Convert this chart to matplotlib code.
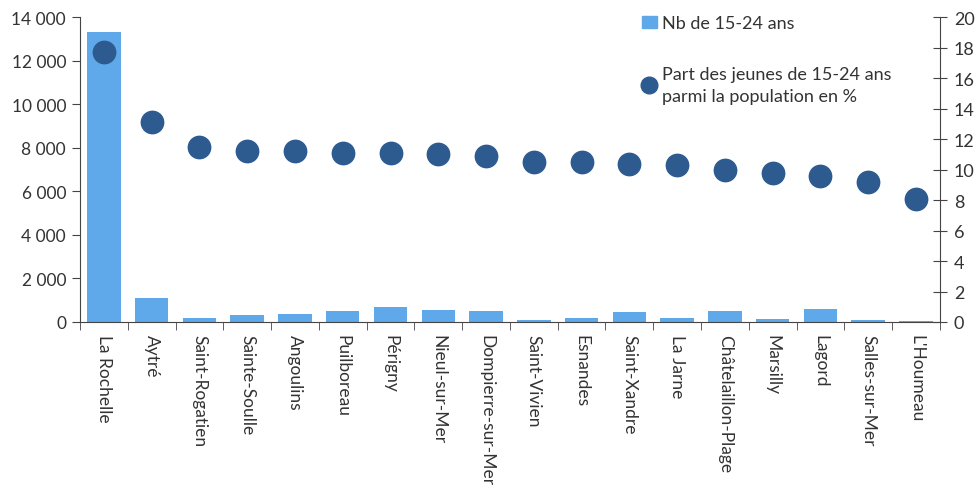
import matplotlib
matplotlib.use("Agg")
import matplotlib.pyplot as plt
import numpy as np
from matplotlib.lines import Line2D
from matplotlib.patches import Patch

communes = ["La Rochelle", "Aytré", "Saint-Rogatien", "Sainte-Soulle", "Angoulins",
            "Puilboreau", "Périgny", "Nieul-sur-Mer", "Dompierre-sur-Mer", "Saint-Vivien",
            "Esnandes", "Saint-Xandre", "La Jarne", "Châtelaillon-Plage", "Marsilly",
            "Lagord", "Salles-sur-Mer", "L'Houmeau"]
nb_15_24 = [13310, 1120, 170, 320, 385, 525, 710, 570, 520, 100,
            170, 445, 170, 490, 140, 600, 100, 60]
part_pct = [17.7, 13.1, 11.5, 11.2, 11.2, 11.1, 11.1, 11.0, 10.9, 10.5,
            10.5, 10.4, 10.3, 9.95, 9.8, 9.57, 9.2, 8.05]
left_ticks = [0, 2000, 4000, 6000, 8000, 10000, 12000, 14000]
left_ticklabels = ["0", "2 000", "4 000", "6 000", "8 000", "10 000", "12 000", "14 000"]
right_ticks = [0, 2, 4, 6, 8, 10, 12, 14, 16, 18, 20]

plt.rcParams['font.family'] = ['Lato', 'DejaVu Sans']
txt = '#333333'
bar_c = '#5fa8ea'
dot_c = '#2e5b8f'

fig = plt.figure(figsize=(9.78, 5.02), dpi=100)
ax = fig.add_axes([0.0818, 0.3566, 0.8792, 0.6069])
x = np.arange(len(communes))
ax.bar(x, nb_15_24, width=0.7, color=bar_c, zorder=2)
ax.set_xlim(-0.5, len(communes) - 0.5)
ax.set_ylim(0, 14000)
ax.set_yticks(left_ticks)
ax.set_yticklabels(left_ticklabels, fontsize=12.5, color=txt)
ax.tick_params(axis='y', direction='out', length=6, color='#444444', pad=4)
ax.set_xticks(x)
ax.set_xticklabels(communes, rotation=270, fontsize=12.5, color=txt, va='top', ha='center')
ax.tick_params(axis='x', length=0, pad=9)
ax.set_xticks(np.arange(-0.5, len(communes), 1), minor=True)
ax.tick_params(axis='x', which='minor', direction='out', length=6, color='#444444')
for s in ['top', 'right']:
    ax.spines[s].set_visible(False)
for s in ['left', 'bottom']:
    ax.spines[s].set_color('#444444')

ax2 = ax.twinx()
ax2.scatter(x, part_pct, s=260, color=dot_c, zorder=3)
ax2.set_ylim(0, 20)
ax2.set_yticks(right_ticks)
ax2.set_yticklabels([str(t) for t in right_ticks], fontsize=13, color=txt)
ax2.tick_params(axis='y', direction='inout', length=10, color='#444444', pad=5)
for s in ['top', 'left', 'bottom']:
    ax2.spines[s].set_visible(False)
ax2.spines['right'].set_color('#444444')

handles = [Patch(color=bar_c), Line2D([], [], marker='o', linestyle='none', color=dot_c, markersize=12)]
leg = fig.legend(handles, ["Nb de 15-24 ans", "Part des jeunes de 15-24 ans\nparmi la population en %"],
                 loc='upper left', bbox_to_anchor=(0.64, 1.0), frameon=False, fontsize=13,
                 handlelength=0.8, handletextpad=0.3, labelspacing=1.9, labelcolor=txt)
for t in leg.get_texts():
    t.set_linespacing(1.5)
fig.savefig("out.png", dpi=100)
